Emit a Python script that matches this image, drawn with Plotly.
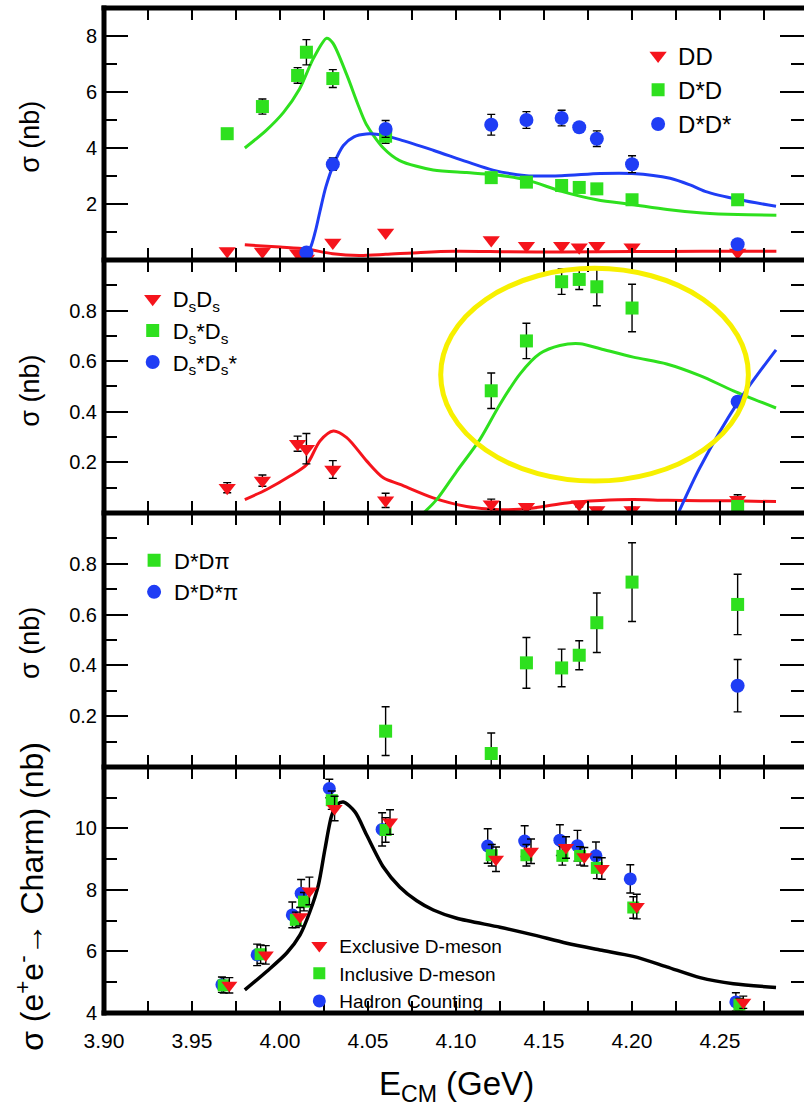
import plotly.graph_objects as go
from plotly.subplots import make_subplots

# ---------------- data ----------------
# Panel 1 : DD, D*D, D*D*
E_DD = [3.97, 3.99, 4.01, 4.015, 4.03, 4.06, 4.12, 4.14, 4.16, 4.17, 4.18, 4.20, 4.26]
DD = [0.32, 0.30, 0.24, 0.05, 0.62, 0.98, 0.71, 0.51, 0.51, 0.45, 0.51, 0.45, 0.27]
E_DSD = [3.97, 3.99, 4.01, 4.015, 4.03, 4.06, 4.12, 4.14, 4.16, 4.17, 4.18, 4.20, 4.26]
DSD = [4.51, 5.48, 6.59, 7.42, 6.48, 4.42, 2.94, 2.78, 2.66, 2.59, 2.54, 2.15, 2.15]
DSD_ERR = [0.1, 0.27, 0.28, 0.45, 0.32, 0.25, 0.1, 0.1, 0.1, 0.1, 0.1, 0.1, 0.1]
E_DSDS = [4.015, 4.03, 4.06, 4.12, 4.14, 4.16, 4.17, 4.18, 4.20, 4.26]
DSDS = [0.27, 3.42, 4.68, 4.83, 5.0, 5.07, 4.74, 4.33, 3.42, 0.56]
DSDS_ERR = [0.05, 0.22, 0.3, 0.37, 0.3, 0.28, 0.05, 0.28, 0.3, 0.05]

# model curves panel 1
C1_DD_X = [3.98, 4.00, 4.015, 4.03, 4.045, 4.06, 4.08, 4.10, 4.13, 4.16, 4.20, 4.24, 4.282]
C1_DD_Y = [0.54, 0.46, 0.39, 0.22, 0.16, 0.20, 0.27, 0.31, 0.29, 0.28, 0.30, 0.31, 0.31]
C1_DSD_X = [3.980, 3.992, 4.002, 4.011, 4.019, 4.0265, 4.030, 4.038, 4.044, 4.049, 4.0587, 4.068,
            4.087, 4.106, 4.121, 4.14, 4.16, 4.18, 4.20, 4.22, 4.24, 4.26, 4.282]
C1_DSD_Y = [4.0, 4.62, 5.27, 6.1, 7.2, 7.92, 7.75, 6.6, 5.6, 4.85, 4.0, 3.55,
            3.21, 3.12, 3.05, 2.86, 2.45, 2.15, 1.98, 1.8, 1.68, 1.62, 1.6]
C1_DSDS_X = [4.0125, 4.017, 4.020, 4.0227, 4.026, 4.0303, 4.036, 4.042, 4.049, 4.056, 4.068, 4.087,
             4.106, 4.121, 4.14, 4.16, 4.182, 4.20, 4.2216, 4.233, 4.2415, 4.261, 4.2818]
C1_DSDS_Y = [0.05, 0.4, 1.0, 1.74, 2.6, 3.39, 4.09, 4.4, 4.5, 4.48, 4.3, 3.92,
             3.51, 3.21, 3.01, 3.01, 3.09, 3.09, 2.92, 2.68, 2.45, 2.15, 1.92]

# Panel 2 : DsDs, Ds*Ds, Ds*Ds*
E_SS = [3.97, 3.99, 4.01, 4.015, 4.03, 4.06, 4.12, 4.14, 4.17, 4.18, 4.20, 4.26]
SS = [0.10, 0.128, 0.274, 0.254, 0.172, 0.05, 0.035, 0.025, 0.035, 0.012, 0.012, 0.052]
SS_ERR = [0.02, 0.022, 0.03, 0.06, 0.035, 0.028, 0.02, 0.01, 0.01, 0.01, 0.01, 0.02]
E_SSS = [4.12, 4.14, 4.16, 4.17, 4.18, 4.20, 4.26]
SSS = [0.483, 0.68, 0.914, 0.923, 0.894, 0.81, 0.026]
SSS_ERR = [0.07, 0.07, 0.05, 0.04, 0.075, 0.094, 0.02]
E_SSSS = [4.26]
SSSS = [0.44]
SSSS_ERR = [0.02]

C2_SS_X = [3.98, 3.9924, 4.0057, 4.0152, 4.0227, 4.0303, 4.0379, 4.0493, 4.0587, 4.0682,
           4.087, 4.106, 4.125, 4.144, 4.163, 4.182, 4.2007, 4.22, 4.2576, 4.2818]
C2_SS_Y = [0.053, 0.093, 0.146, 0.192, 0.285, 0.324, 0.298, 0.205, 0.139, 0.113,
           0.06, 0.026, 0.013, 0.02, 0.04, 0.049, 0.053, 0.05, 0.048, 0.045]
C2_SSS_X = [4.0815, 4.089, 4.1004, 4.1136, 4.125, 4.1364, 4.1477, 4.159, 4.1705, 4.182,
            4.2007, 4.2197, 4.2386, 4.2576, 4.2818]
C2_SSS_Y = [0.0, 0.053, 0.165, 0.291, 0.43, 0.55, 0.63, 0.662, 0.669, 0.649,
            0.616, 0.589, 0.543, 0.483, 0.415]
C2_SSSS_X = [4.2263, 4.2386, 4.2604, 4.2818]
C2_SSSS_Y = [0.0, 0.18, 0.44, 0.645]

# highlight ellipse (panel 2, data coordinates)
ELLIPSE_X = [4.0913, 4.2661]
ELLIPSE_Y = [0.126, 0.967]

# Panel 3 : D*D pi, D*D* pi
E_DDPI = [4.06, 4.12, 4.14, 4.16, 4.17, 4.18, 4.20, 4.26]
DDPI = [0.141, 0.053, 0.41, 0.39, 0.44, 0.568, 0.728, 0.64]
DDPI_ERR = [0.096, 0.081, 0.10, 0.074, 0.057, 0.117, 0.155, 0.119]
E_DDSPI = [4.26]
DDSPI = [0.32]
DDSPI_ERR = [0.103]

# Panel 4 : total charm cross section
E_HAD = [3.967, 3.987, 4.007, 4.012, 4.028, 4.058, 4.118, 4.139, 4.159, 4.169, 4.1795, 4.199, 4.259]
HAD = [4.92, 5.89, 7.19, 7.89, 11.3, 9.97, 9.43, 9.59, 9.62, 9.44, 9.11, 8.36, 4.36]
HAD_ERR = [0.25, 0.35, 0.42, 0.45, 0.3, 0.54, 0.56, 0.5, 0.5, 0.5, 0.45, 0.46, 0.3]
E_INC = [3.968, 3.989, 4.009, 4.0136, 4.0294, 4.06, 4.1203, 4.14, 4.1604, 4.1705, 4.18, 4.2007, 4.261]
INC = [4.9, 5.91, 7.03, 7.62, 10.92, 9.95, 9.13, 9.13, 9.11, 9.11, 8.72, 7.43, 4.27]
INC_ERR = [0.25, 0.3, 0.25, 0.3, 0.3, 0.4, 0.35, 0.35, 0.3, 0.3, 0.35, 0.35, 0.2]
E_EXC = [3.9712, 3.9919, 4.0114, 4.0167, 4.031, 4.0625, 4.1227, 4.1426, 4.1625, 4.1729, 4.1828, 4.2027, 4.2632]
EXC = [4.9, 5.89, 7.13, 7.97, 10.65, 10.21, 9.0, 9.26, 9.38, 9.08, 8.7, 7.46, 4.35]
EXC_ERR = [0.25, 0.3, 0.3, 0.45, 0.4, 0.4, 0.4, 0.4, 0.35, 0.3, 0.35, 0.4, 0.2]

C4_X = [3.98, 3.9924, 4.0038, 4.0114, 4.017, 4.0218, 4.0256, 4.0294, 4.0325, 4.036, 4.0426, 4.0493,
        4.0587, 4.068, 4.0777, 4.0871, 4.1004, 4.125, 4.1439, 4.1629, 4.1818, 4.2007, 4.2197,
        4.2386, 4.2576, 4.2818]
C4_Y = [4.75, 5.35, 5.95, 6.54, 7.3, 8.16, 9.35, 10.43, 10.78, 10.86, 10.54, 9.78,
        8.75, 8.1, 7.65, 7.35, 7.08, 6.79, 6.54, 6.27, 6.05, 5.84, 5.5,
        5.15, 4.95, 4.83]

# axes ticks
X_TICKS = [3.900, 3.925, 3.950, 3.975, 4.000, 4.025, 4.050, 4.075, 4.100, 4.125, 4.150,
           4.175, 4.200, 4.225, 4.250, 4.275]
X_LABELS = ["3.90", "", "3.95", "", "4.00", "", "4.05", "", "4.10", "", "4.15", "",
            "4.20", "", "4.25", ""]
Y1_TICKS, Y1_MINOR = [2, 4, 6, 8], [1, 3, 5, 7]
Y2_TICKS, Y2_MINOR = [0.2, 0.4, 0.6, 0.8], [0.1, 0.3, 0.5, 0.7, 0.9]
Y2_LABELS = ["0.2", "0.4", "0.6", "0.8"]
Y4_TICKS, Y4_MINOR = [4, 6, 8, 10], [5, 7, 9, 11]

# ---------------- style ----------------
RED = "#f5141c"
GREEN = "#2ee01e"
BLUE = "#1f3df5"
FONT = "Liberation Sans, Arial, Helvetica, sans-serif"

fig = make_subplots(rows=4, cols=1, shared_xaxes=True, vertical_spacing=0)

MSIZE = {"triangle-down": 15, "square": 13, "circle": 14}


def points(x, y, err, name, color, symbol, row, legend, rank, shrink=0):
    fig.add_trace(go.Scatter(
        x=x, y=y, mode="markers", name=name, legend=legend, legendrank=rank,
        marker=dict(color=color, symbol=symbol, size=MSIZE[symbol] - shrink, line=dict(width=0)),
        error_y=dict(type="data", array=err, visible=err is not None,
                     color="black", thickness=1.4, width=4),
    ), row=row, col=1)


def curve(x, y, color, row, width=3):
    fig.add_trace(go.Scatter(
        x=x, y=y, mode="lines", showlegend=False, hoverinfo="skip",
        line=dict(color=color, width=width, shape="spline", smoothing=0.8),
    ), row=row, col=1)


# panel 1
curve(C1_DD_X, C1_DD_Y, RED, 1)
curve(C1_DSD_X, C1_DSD_Y, GREEN, 1)
curve(C1_DSDS_X, C1_DSDS_Y, BLUE, 1)
points(E_DD, DD, None, "DD", RED, "triangle-down", 1, "legend", 1)
points(E_DSD, DSD, DSD_ERR, "D*D", GREEN, "square", 1, "legend", 2)
points(E_DSDS, DSDS, DSDS_ERR, "D*D*", BLUE, "circle", 1, "legend", 3)

# panel 2
curve(C2_SS_X, C2_SS_Y, RED, 2)
curve(C2_SSS_X, C2_SSS_Y, GREEN, 2)
curve(C2_SSSS_X, C2_SSSS_Y, BLUE, 2)
points(E_SS, SS, SS_ERR, "D<sub>s</sub>D<sub>s</sub>", RED, "triangle-down", 2, "legend2", 1)
points(E_SSS, SSS, SSS_ERR, "D<sub>s</sub>*D<sub>s</sub>", GREEN, "square", 2, "legend2", 2)
points(E_SSSS, SSSS, SSSS_ERR, "D<sub>s</sub>*D<sub>s</sub>*", BLUE, "circle", 2, "legend2", 3)

# panel 3
points(E_DDPI, DDPI, DDPI_ERR, "D*Dπ", GREEN, "square", 3, "legend3", 1)
points(E_DDSPI, DDSPI, DDSPI_ERR, "D*D*π", BLUE, "circle", 3, "legend3", 2)

# panel 4
curve(C4_X, C4_Y, "black", 4, width=3.5)
points(E_HAD, HAD, HAD_ERR, "Hadron Counting", BLUE, "circle", 4, "legend4", 3, shrink=1)
points(E_INC, INC, INC_ERR, "Inclusive D-meson", GREEN, "square", 4, "legend4", 2, shrink=1)
points(E_EXC, EXC, EXC_ERR, "Exclusive D-meson", RED, "triangle-down", 4, "legend4", 1, shrink=1)

# ---------------- layout ----------------
BOUNDS = [1.0, 0.7493, 0.4975, 0.2448, 0.0]

for i in range(4):
    fig.update_xaxes(
        row=i + 1, col=1, range=[3.90, 4.2977], tickmode="array", tickvals=X_TICKS,
        ticktext=X_LABELS, ticks="inside", ticklen=12, tickwidth=1.5, tickcolor="black",
        mirror="allticks", showline=False, showgrid=False, zeroline=False,
        showticklabels=(i == 3), tickfont=dict(family=FONT, size=21, color="black"),
        ticklabelstandoff=13,
    )

yspecs = [
    (Y1_TICKS, [str(v) for v in Y1_TICKS], Y1_MINOR, [0, 9]),
    (Y2_TICKS, Y2_LABELS, Y2_MINOR, [0, 1.0]),
    (Y2_TICKS, Y2_LABELS, Y2_MINOR, [0, 1.0]),
    (Y4_TICKS, [str(v) for v in Y4_TICKS], Y4_MINOR, [4, 12]),
]
for i, (tv, tt, mv, rg) in enumerate(yspecs):
    fig.update_yaxes(
        row=i + 1, col=1, range=rg, domain=[BOUNDS[i + 1], BOUNDS[i]],
        tickmode="array", tickvals=tv, ticktext=tt, ticks="inside", ticklen=24,
        tickwidth=1.5, tickcolor="black", mirror="allticks", showline=False,
        showgrid=False, zeroline=False, tickfont=dict(family=FONT, size=20, color="black"),
        ticklabelstandoff=6,
        minor=dict(tickvals=mv, ticks="inside", ticklen=13, tickwidth=1.5, tickcolor="black"),
    )

shapes = []
for b in BOUNDS:
    shapes.append(dict(type="line", xref="paper", yref="paper", x0=-0.0035, x1=1.01,
                       y0=b, y1=b, line=dict(color="black", width=5)))
shapes.append(dict(type="line", xref="paper", yref="paper", x0=0, x1=0,
                   y0=-0.0025, y1=1.0025, line=dict(color="black", width=5)))
shapes.append(dict(type="circle", xref="x2", yref="y2", x0=ELLIPSE_X[0], x1=ELLIPSE_X[1],
                   y0=ELLIPSE_Y[0], y1=ELLIPSE_Y[1], line=dict(color="#f7f000", width=5)))

ann = []
ytitles = [("σ (nb)", 0.8716, 27), ("σ (nb)", 0.619, 27), ("σ (nb)", 0.368, 27),
           ("σ (e<sup>+</sup>e<sup>-</sup>→ Charm) (nb)", 0.1164, 32)]
for txt, yc, fs in ytitles:
    ann.append(dict(text=txt, xref="paper", yref="paper", x=-0.106, y=yc, textangle=-90,
                    showarrow=False, xanchor="center", yanchor="middle",
                    font=dict(family=FONT, size=fs, color="black")))
ann.append(dict(text="E<sub>CM</sub> (GeV)", xref="paper", yref="paper", x=0.504, y=-0.073,
                showarrow=False, xanchor="center", yanchor="middle",
                font=dict(family=FONT, size=33, color="black")))

legfont = dict(family=FONT, color="black")
fig.update_layout(
    width=804, height=1111, autosize=False,
    margin=dict(l=104, r=0, t=8, b=98),
    paper_bgcolor="white", plot_bgcolor="white",
    font=dict(family=FONT, color="black"),
    shapes=shapes, annotations=ann,
    legend=dict(x=0.763, y=0.9747, xanchor="left", yanchor="top", bgcolor="rgba(0,0,0,0)",
                font=dict(size=24, **legfont), tracegroupgap=6),
    legend2=dict(x=0.041, y=0.7313, xanchor="left", yanchor="top", bgcolor="rgba(0,0,0,0)",
                 font=dict(size=22, **legfont), tracegroupgap=0),
    legend3=dict(x=0.043, y=0.4712, xanchor="left", yanchor="top", bgcolor="rgba(0,0,0,0)",
                 font=dict(size=22, **legfont), tracegroupgap=8),
    legend4=dict(x=0.279, y=0.0859, xanchor="left", yanchor="top", bgcolor="rgba(0,0,0,0)",
                 font=dict(size=19, **legfont), tracegroupgap=0),
)

fig.write_html("out.html")
